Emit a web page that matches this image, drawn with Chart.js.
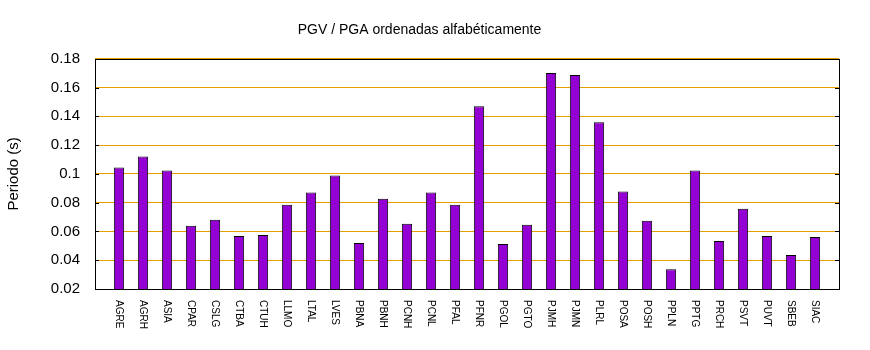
<!DOCTYPE html>
<html>
<head>
<meta charset="utf-8">
<script src="https://cdn.jsdelivr.net/npm/chart.js@4/dist/chart.umd.min.js"></script>
<style>
    html, body { margin: 0; padding: 0; background: #fff; }
    #wrap { width: 870px; height: 350px; position: relative; }
</style>
</head>
<body>
<div id="wrap"><canvas id="chart"></canvas></div>
<script>
const stations = ['AGRE', 'AGRH', 'ASIA', 'CPAR', 'CSLG', 'CTBA', 'CTUH', 'LLMO', 'LTAL', 'LVES',
    'PBNA', 'PBNH', 'PCNH', 'PCNL', 'PFAL', 'PFNR', 'PGOL', 'PGTO', 'PJMH', 'PJMN',
    'PLRL', 'POSA', 'POSH', 'PPLN', 'PPTG', 'PRCH', 'PSVT', 'PUVT', 'SBEB', 'SIAC'];
const periods = [0.1044, 0.1121, 0.1023, 0.0639, 0.0681, 0.0569, 0.0576, 0.0786, 0.0870, 0.0989,
    0.0520, 0.0828, 0.0653, 0.0870, 0.0786, 0.1471, 0.0513, 0.0646, 0.1702, 0.1688,
    0.1359, 0.0877, 0.0674, 0.0338, 0.1023, 0.0534, 0.0758, 0.0569, 0.0436, 0.0562];
const yTicks = [0.02, 0.04, 0.06, 0.08, 0.1, 0.12, 0.14, 0.16, 0.18];

// one empty slot on each side, like the original plot
const labels = [''].concat(stations, ['']);
const values = [null].concat(periods, [null]);

const font = '"Liberation Sans", Arial, sans-serif';

// frame, inner ticks and the rotated station names
const framePlugin = {
    id: 'frame',
    afterDraw(chart) {
        const ctx = chart.ctx;
        const a = chart.chartArea;
        const y = chart.scales.y;
        const x = chart.scales.x;
        ctx.save();
        ctx.strokeStyle = '#000';
        ctx.lineWidth = 1;
        yTicks.forEach((t) => {
            const py = Math.round(y.getPixelForValue(t)) + 0.5;
            ctx.beginPath();
            ctx.moveTo(a.left, py);
            ctx.lineTo(a.left + 4, py);
            ctx.moveTo(a.right - 4, py);
            ctx.lineTo(a.right, py);
            ctx.stroke();
        });
        ctx.strokeRect(Math.round(a.left) + 0.5, Math.round(a.top) + 0.5,
            Math.round(a.right - a.left), Math.round(a.bottom - a.top));

        ctx.fillStyle = '#000';
        ctx.font = '10px ' + font;
        ctx.textAlign = 'left';
        ctx.textBaseline = 'middle';
        stations.forEach((s, i) => {
            const px = x.getPixelForValue(i + 1);
            ctx.save();
            ctx.translate(px, a.bottom + 11);
            ctx.rotate(Math.PI / 2);
            ctx.fillText(s, 0, 0);
            ctx.restore();
        });
        ctx.restore();
    }
};

new Chart(document.getElementById('chart'), {
    type: 'bar',
    data: {
        labels: labels,
        datasets: [{
            label: 'PGV / PGA',
            data: values,
            backgroundColor: '#9400d3',
            borderColor: '#000',
            borderWidth: 1,
            borderSkipped: false,
            barPercentage: 0.43,
            categoryPercentage: 1,
        }],
    },
    options: {
        responsive: true,
        maintainAspectRatio: false,
        animation: false,
        layout: { padding: { top: 11, right: 31, left: 0, bottom: 0 } },
        plugins: {
            legend: { display: false },
            tooltip: { enabled: false },
            title: {
                display: true,
                text: 'PGV / PGA ordenadas alfabéticamente',
                color: '#000',
                font: { family: font, size: 14, weight: 'normal' },
                padding: { top: 11, bottom: 20 },
            },
        },
        scales: {
            x: {
                offset: false,
                grid: { display: false },
                border: { display: false },
                ticks: { display: false },
                afterFit(s) { s.height = 61; },
            },
            y: {
                min: 0.02,
                max: 0.18,
                border: { display: false },
                grid: { color: '#e69f00', lineWidth: 1, drawTicks: false },
                afterBuildTicks(s) { s.ticks = yTicks.map((v) => ({ value: v })); },
                ticks: {
                    color: '#000',
                    padding: 15,
                    font: { family: font, size: 15 },
                    callback: (v) => String(+Number(v).toFixed(2)),
                },
                title: {
                    display: true,
                    text: 'Periodo (s)',
                    color: '#000',
                    font: { family: font, size: 15 },
                    padding: { top: 5, bottom: 10 },
                },
                afterFit(s) { s.width = 95; },
            },
        },
    },
    plugins: [framePlugin],
});
</script>
</body>
</html>
